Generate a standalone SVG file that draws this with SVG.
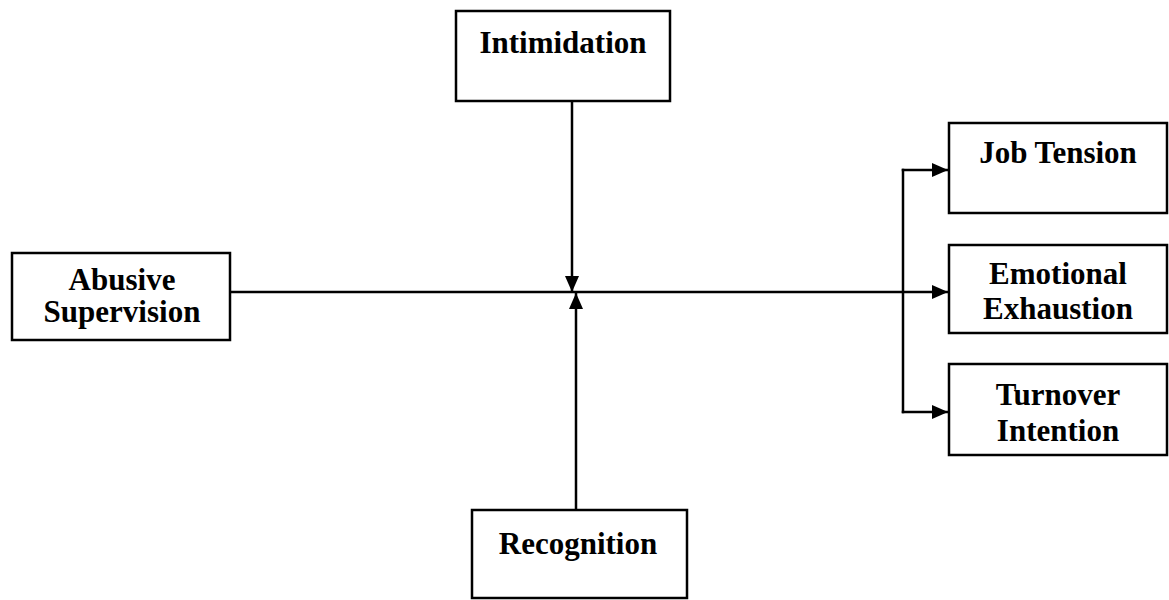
<svg xmlns="http://www.w3.org/2000/svg" width="1169" height="600" viewBox="0 0 1169 600">
<style>
.box{fill:#fff;stroke:#000;stroke-width:2.5}
.lbl{font-family:"Liberation Serif","Times New Roman",serif;font-weight:bold;font-size:31px;fill:#000;text-anchor:middle}
.con{fill:none;stroke:#000;stroke-width:2.5}
</style>
<defs>
<marker id="ah" markerUnits="userSpaceOnUse" markerWidth="16" markerHeight="14" refX="16" refY="7" orient="auto">
<path d="M0,0 L16,7 L0,14 z" fill="#000"/>
</marker>
</defs>
<rect width="1169" height="600" fill="#fff"/>
<g id="connectors">
<line class="con" x1="230" y1="292" x2="948" y2="292" marker-end="url(#ah)"/>
<line class="con" x1="572" y1="101" x2="572" y2="292" marker-end="url(#ah)"/>
<line class="con" x1="576" y1="510" x2="576" y2="293" marker-end="url(#ah)"/>
<line class="con" x1="903" y1="168.75" x2="903" y2="413.25"/>
<line class="con" x1="901.75" y1="170" x2="948" y2="170" marker-end="url(#ah)"/>
<line class="con" x1="901.75" y1="412" x2="948" y2="412" marker-end="url(#ah)"/>
</g>
<g id="intimidation">
<rect class="box" x="456" y="11" width="214" height="90"/>
<text class="lbl" x="563" y="53">Intimidation</text>
</g>
<g id="recognition">
<rect class="box" x="472" y="510" width="215" height="88"/>
<text class="lbl" x="578" y="554">Recognition</text>
</g>
<g id="abusive-supervision">
<rect class="box" x="12" y="253" width="218" height="87"/>
<text class="lbl" x="122" y="290">Abusive</text>
<text class="lbl" x="122" y="322">Supervision</text>
</g>
<g id="job-tension">
<rect class="box" x="949" y="123" width="218" height="90"/>
<text class="lbl" x="1058" y="163">Job Tension</text>
</g>
<g id="emotional-exhaustion">
<rect class="box" x="949" y="245" width="218" height="88"/>
<text class="lbl" x="1058" y="284">Emotional</text>
<text class="lbl" x="1058" y="319">Exhaustion</text>
</g>
<g id="turnover-intention">
<rect class="box" x="949" y="364" width="218" height="91"/>
<text class="lbl" x="1058" y="405">Turnover</text>
<text class="lbl" x="1058" y="441">Intention</text>
</g>
</svg>
